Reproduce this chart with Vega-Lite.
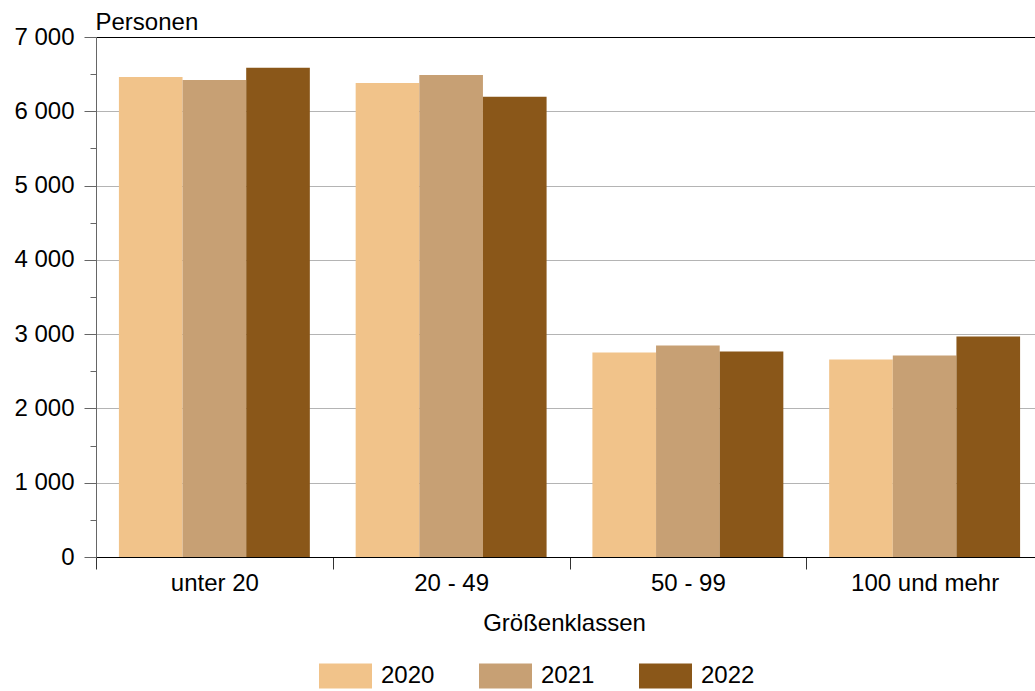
{
  "$schema": "https://vega.github.io/schema/vega-lite/v6.json",
  "autosize": {"type": "none"},
  "width": 939,
  "height": 520,
  "padding": {"left": 96, "top": 37, "right": 0, "bottom": 134},
  "background": "white",
  "config": {
    "font": "Liberation Sans",
    "view": {"stroke": null},
    "axis": {"labelFont": "Liberation Sans", "titleFont": "Liberation Sans", "labelColor": "black", "titleColor": "black", "titleFontWeight": "normal"}
  },
  "data": {
    "values": [
      {"klasse": "unter 20", "jahr": "2020", "personen": 6460},
      {"klasse": "unter 20", "jahr": "2021", "personen": 6420},
      {"klasse": "unter 20", "jahr": "2022", "personen": 6585},
      {"klasse": "20 - 49", "jahr": "2020", "personen": 6382},
      {"klasse": "20 - 49", "jahr": "2021", "personen": 6489},
      {"klasse": "20 - 49", "jahr": "2022", "personen": 6194},
      {"klasse": "50 - 99", "jahr": "2020", "personen": 2754},
      {"klasse": "50 - 99", "jahr": "2021", "personen": 2848},
      {"klasse": "50 - 99", "jahr": "2022", "personen": 2768},
      {"klasse": "100 und mehr", "jahr": "2020", "personen": 2660},
      {"klasse": "100 und mehr", "jahr": "2021", "personen": 2714},
      {"klasse": "100 und mehr", "jahr": "2022", "personen": 2969}
    ]
  },
  "mark": {"type": "bar", "stroke": null},
  "encoding": {
    "x": {
      "field": "klasse",
      "type": "nominal",
      "sort": ["unter 20", "20 - 49", "50 - 99", "100 und mehr"],
      "scale": {"paddingInner": 0, "paddingOuter": 0, "range": [0, 947]},
      "axis": {
        "title": "Größenklassen",
        "titleFontSize": 24,
        "titlePadding": 16,
        "titleX": 468,
        "labelFontSize": 24,
        "labelAngle": 0,
        "labelPadding": 2,
        "tickBand": "extent",
        "tickSize": 12,
        "tickColor": "#333333",
        "domainColor": "black",
        "domainWidth": 1,
        "grid": false
      }
    },
    "xOffset": {
      "field": "jahr",
      "type": "nominal",
      "scale": {"paddingInner": 0, "paddingOuter": 0.36}
    },
    "y": {
      "field": "personen",
      "type": "quantitative",
      "scale": {"domain": [0, 7000], "nice": false},
      "axis": {
        "title": "Personen",
        "titleAngle": 0,
        "titleAlign": "left",
        "titleBaseline": "alphabetic",
        "titleX": -1,
        "titleY": -8,
        "titleFontSize": 24,
        "labelFontSize": 24,
        "values": [0, 500, 1000, 1500, 2000, 2500, 3000, 3500, 4000, 4500, 5000, 5500, 6000, 6500, 7000],
        "labelExpr": "datum.value % 1000 === 0 ? replace(format(datum.value, ','), ',', ' ') : ''",
        "tickSize": {"expr": "datum.value % 1000 === 0 ? 12 : 6"},
        "labelPadding": 10,
        "tickColor": "#666666",
        "domainColor": "#666666",
        "grid": true,
        "gridColor": {"expr": "datum.value === 7000 ? 'black' : '#b4b4b4'"},
        "gridOpacity": {"expr": "datum.value % 1000 === 0 ? 1 : 0"}
      }
    },
    "color": {
      "field": "jahr",
      "type": "nominal",
      "scale": {"domain": ["2020", "2021", "2022"], "range": ["#F1C38A", "#C7A074", "#8A5719"]},
      "legend": {
        "title": null,
        "orient": "none",
        "legendX": 223,
        "legendY": 612,
        "direction": "horizontal",
        "symbolType": "M-1,-0.472H1V0.472H-1Z",
        "symbolSize": 2809,
        "symbolStrokeWidth": 0,
        "symbolOpacity": 1,
        "labelFontSize": 24,
        "labelFont": "Liberation Sans",
        "labelColor": "black",
        "labelOffset": 9,
        "columnPadding": 44
      }
    }
  }
}
